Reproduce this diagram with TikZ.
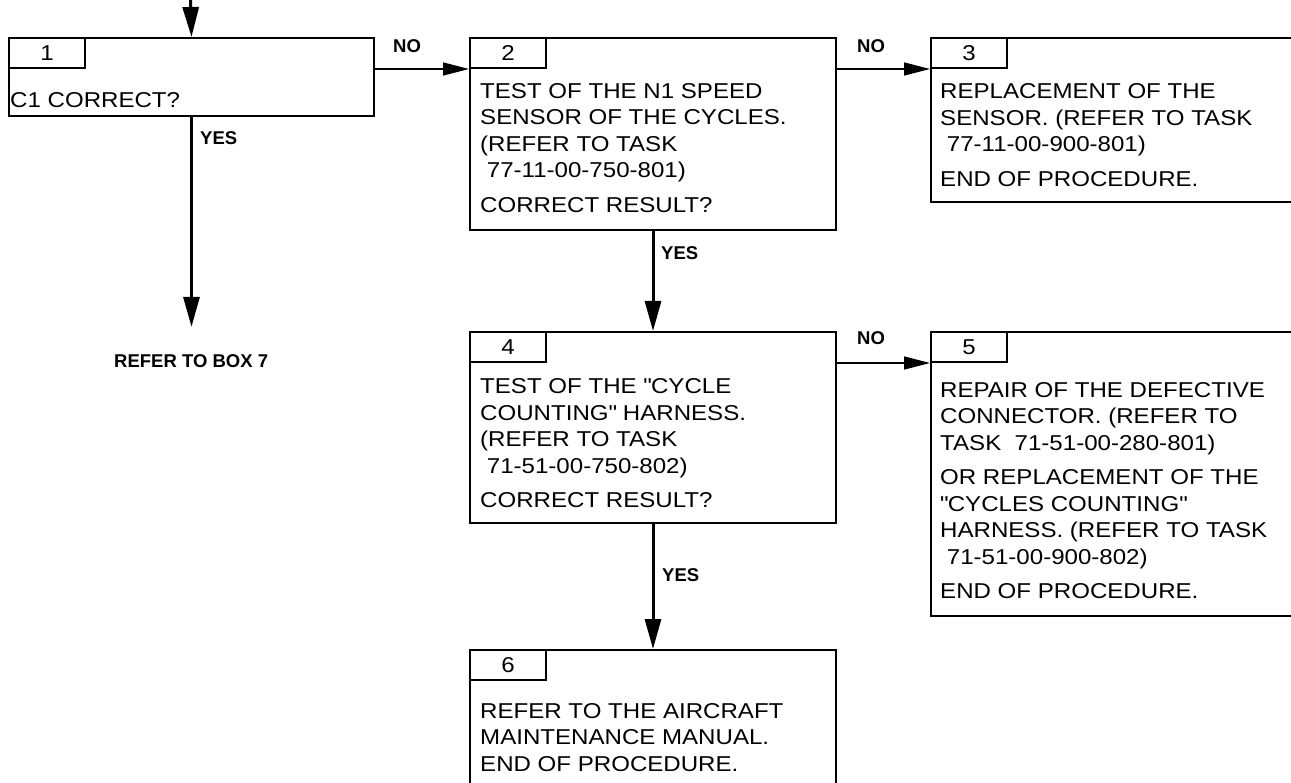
\documentclass[tikz,border=0pt]{standalone}
\usepackage{fontspec}
\setmainfont{Liberation Sans}[FakeStretch=1.12]
\newfontfamily\tagfont{Liberation Sans}
\usetikzlibrary{arrows.meta}
\tikzset{
  stepbox/.style={draw=black, line width=2pt, rectangle, anchor=north west, inner sep=0pt},
  numtab/.style={draw=black, line width=2pt, rectangle, anchor=north west, inner sep=0pt, minimum width=76pt, minimum height=30pt, font=\fontsize{21.5}{26.5}\selectfont},
  boxtext/.style={anchor=base west, inner sep=0pt, align=left, font=\fontsize{21.5}{26.5}\selectfont},
  yesflow/.style={-{Triangle[length=30pt, width=16pt]}, line width=3pt, draw=black},
  noflow/.style={-{Triangle[length=26pt, width=13pt]}, line width=1.4pt, draw=black},
  answer/.style={anchor=base west, inner sep=0pt, font=\tagfont\bfseries\fontsize{18.5}{20}\selectfont}
}
\begin{document}
\begin{tikzpicture}[x=1pt, y=-1pt]
  \useasboundingbox (0,0) rectangle (1291,783);
  \clip (0,0) rectangle (1291,783);

  % boxes
  \node[stepbox, minimum width=365pt, minimum height=78pt] (b1) at (8,37) {};
  \node[stepbox, minimum width=366pt, minimum height=192pt] (b2) at (469,37) {};
  \node[stepbox, minimum width=400pt, minimum height=164pt] (b3) at (930,37) {};
  \node[stepbox, minimum width=366pt, minimum height=191pt] (b4) at (469,331) {};
  \node[stepbox, minimum width=400pt, minimum height=284pt] (b5) at (930,331) {};
  \node[stepbox, minimum width=366pt, minimum height=170pt] (b6) at (469,649) {};

  \node[numtab] (t1) at (b1.north west) {1};
  \node[numtab] (t2) at (b2.north west) {2};
  \node[numtab] (t3) at (b3.north west) {3};
  \node[numtab] (t4) at (b4.north west) {4};
  \node[numtab] (t5) at (b5.north west) {5};
  \node[numtab] (t6) at (b6.north west) {6};

  % texts (base = last line)
  \node[boxtext] (x1) at (10,108) {C1 CORRECT?};
  \node[boxtext] (x2) at (480,212.5) {TEST OF THE N1 SPEED\\SENSOR OF THE CYCLES.\\(REFER TO TASK\\\ 77-11-00-750-801)\\[8pt]CORRECT RESULT?};
  \node[boxtext] (x3) at (940,186.5) {REPLACEMENT OF THE\\SENSOR. (REFER TO TASK\\\ 77-11-00-900-801)\\[8pt]END OF PROCEDURE.};
  \node[boxtext] (x4) at (480,507.5) {TEST OF THE \textquotedbl CYCLE\\COUNTING\textquotedbl{} HARNESS.\\(REFER TO TASK\\\ 71-51-00-750-802)\\[8pt]CORRECT RESULT?};
  \node[boxtext] (x5) at (940,598.5) {REPAIR OF THE DEFECTIVE\\CONNECTOR. (REFER TO\\TASK\ \ 71-51-00-280-801)\\[8pt]OR REPLACEMENT OF THE\\\textquotedbl CYCLES COUNTING\textquotedbl\\HARNESS. (REFER TO TASK\\\ 71-51-00-900-802)\\[8pt]END OF PROCEDURE.};
  \node[boxtext] (x6) at (480,771) {REFER TO THE AIRCRAFT\\MAINTENANCE MANUAL.\\END OF PROCEDURE.};

  \node[answer] (refer7) at (114,368) {REFER TO BOX 7};
  \coordinate (entry) at (190.5,-2);

  % connectors
  \draw[yesflow] (entry) -- (b1.north);
  \draw[yesflow, shorten >=28pt] (b1.south) -- (refer7.north -| b1.south);
  \draw[yesflow] (b2.south) -- (b4.north);
  \draw[yesflow] (b4.south) -- (b6.north);
  \draw[noflow] (b1.east |- t1.south) -- (b2.west |- t1.south);
  \draw[noflow] (b2.east |- t2.south) -- (b3.west |- t2.south);
  \draw[noflow] (b4.east |- t4.south) -- (b5.west |- t4.south);

  \node[answer] at (200,145) {YES};
  \node[answer] at (661,260) {YES};
  \node[answer] at (662,581) {YES};
  \node[answer] at (393,53) {NO};
  \node[answer] at (857,53) {NO};
  \node[answer] at (857,345) {NO};
\end{tikzpicture}
\end{document}
